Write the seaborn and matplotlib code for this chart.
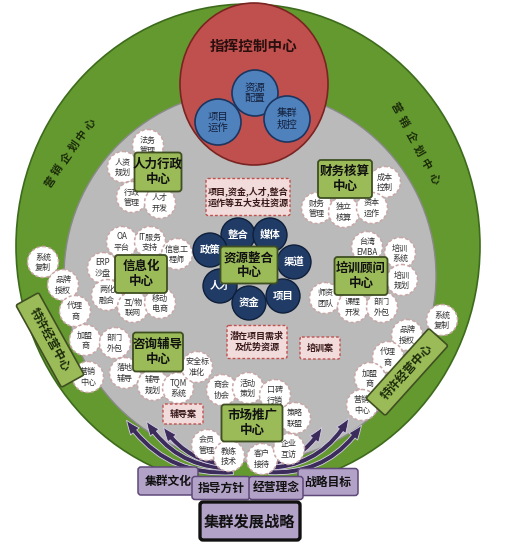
import matplotlib
matplotlib.use("Agg")
import matplotlib.pyplot as plt
import seaborn as sns
from matplotlib.patches import Circle, Ellipse, FancyBboxPatch, FancyArrowPatch
import matplotlib.transforms as mtransforms

sns.set_theme(style="white")
plt.rcParams['font.family'] = ['Noto Sans CJK SC', 'DejaVu Sans']

# --- contenido del diagrama ---
titulo = "指挥控制中心"
nucleo_labels = ["资源\n配置", "项目\n运作", "集群\n规控"]
nucleo_xy = [(255, 93), (218, 122), (287, 119)]

anillo_label = "营销企划中心"
anillo_izq_xy = [(50, 182), (57, 170), (66, 158), (74, 146), (82, 135), (90, 124)]
anillo_der_xy = [(396, 108), (403, 122), (411, 137), (418, 151), (426, 165), (434, 179)]

centros = ["人力行政\n中心", "财务核算\n中心", "信息化\n中心", "资源整合\n中心",
           "培训顾问\n中心", "咨询辅导\n中心", "市场推广\n中心"]
centros_xy = [(158, 172), (345, 179), (141, 274), (249, 265), (361, 276), (158, 352), (252, 423)]
centros_wh = [(47, 39), (54, 38), (52, 38), (57, 37), (53, 38), (50, 39), (61, 37)]

satelites = ["法务\n管理", "人资\n规划", "行政\n管理", "人才\n开发",
             "OA\n平台", "IT服务\n支持", "信息工\n程师", "ERP\n沙盘", "两化\n融合", "互/物\n联网", "移动\n电商",
             "系统\n复制", "品牌\n授权", "代理\n商", "加盟\n商", "营销\n中心",
             "部门\n外包", "落地\n辅导", "辅导\n规划", "TQM\n系统", "安全标\n准化",
             "商会\n协会", "活动\n策划", "口碑\n行销", "策略\n联盟", "会员\n管理", "教练\n技术", "客户\n接待", "企业\n互访",
             "成本\n控制", "财务\n管理", "独立\n核算", "资本\n运作",
             "台湾\nEMBA", "培训\n系统", "培训\n规划", "师资\n团队", "课程\n开发", "部门\n外包",
             "系统\n复制", "品牌\n授权", "代理\n商", "加盟\n商", "营销\n中心"]
satelites_xy = [(148, 145), (123, 167), (132, 197), (160, 203),
                (122, 242), (150, 242), (177, 254), (103, 268), (107, 295), (133, 307), (160, 303),
                (43, 262), (63, 285), (75, 311), (85, 340), (88, 377),
                (115, 343), (125, 373), (153, 385), (178, 388), (197, 367),
                (222, 390), (248, 388), (275, 395), (295, 418), (207, 445), (229, 456), (262, 459), (289, 449),
                (385, 182), (317, 208), (344, 212), (372, 208),
                (367, 247), (400, 253), (402, 280), (325, 298), (353, 307), (382, 307),
                (442, 320), (407, 335), (388, 357), (370, 378), (362, 405)]

recursos = ["整合", "媒体", "政策", "渠道", "人才", "资金", "项目"]
recursos_xy = [(238, 235), (270, 235), (210, 250), (294, 262), (220, 286), (249, 303), (283, 296)]

notas = ["项目,资金,人才,整合\n运作等五大支柱资源", "潜在项目需求\n及优势资源", "培训案", "辅导案"]
notas_xy = [(248, 197), (257, 342), (320, 348), (183, 414)]
notas_wh = [(84, 37), (60, 33), (40, 22), (40, 20)]

franquicia = "特许经营中心"
franquicia_xy = [(50, 340), (407, 372)]
franquicia_ang = [-61, 48]

bases = ["集群文化", "战略目标", "指导方针", "经营理念", "集群发展战略"]
bases_xy = [(168, 481), (328, 482), (221, 488), (276, 488), (250, 521)]
bases_wh = [(60, 28), (60, 27), (58, 23), (54, 23), (100, 38)]

flechas_inicio = [(236, 472), (238, 468), (240, 464), (262, 464), (264, 468), (266, 472)]
flechas_fin = [(125, 418), (145, 419), (162, 425), (323, 425), (350, 416), (363, 423)]

# --- colores ---
VERDE = '#64992f'
GRIS = '#bababa'
ROJO = '#c0504d'
AZUL = '#4f81bd'
MARINO = '#1f3b66'
VERDE_CLARO = '#9bbb59'
MORADO = '#b3a2c7'
FLECHA = '#3b2c5c'

fig = plt.figure(figsize=(5.23, 5.45), dpi=100)
ax = fig.add_axes([0, 0, 1, 1])
ax.set_xlim(0, 523)
ax.set_ylim(545, 0)
ax.axis('off')


def caja(x, y, w, h, fc, ec, lw=1.2, ls='-', z=5, pad=3):
    p = FancyBboxPatch((x - w / 2 + pad, y - h / 2 + pad), w - 2 * pad, h - 2 * pad,
                       boxstyle=f"round,pad={pad}", fc=fc, ec=ec, lw=lw, ls=ls, zorder=z)
    ax.add_patch(p)
    return p


# anillo verde y círculo gris
ax.add_patch(Ellipse((248, 246), 464, 484, fc=VERDE, ec='#3d6b1c', lw=1.2, zorder=1))
ax.add_patch(Circle((250, 276), 186, fc=GRIS, ec='#8a8a8a', lw=1, zorder=2))

# círculo de mando
ax.add_patch(Ellipse((254, 84), 148, 162, fc=ROJO, ec='#7a2422', lw=1.2, zorder=3))
ax.text(254, 46, titulo, ha='center', va='center', fontsize=10.5, fontweight='bold', color='#2a0f0f', zorder=4)
for lab, (x, y) in zip(nucleo_labels, nucleo_xy):
    ax.add_patch(Circle((x, y), 23, fc=AZUL, ec='#1b3560', lw=1.2, zorder=4))
    ax.text(x, y, lab, ha='center', va='center', fontsize=7.5, color='#14213d', linespacing=1.1, zorder=5)

# texto curvo del anillo
for ch, (x, y) in zip(anillo_label, anillo_izq_xy):
    ax.text(x, y, ch, ha='center', va='center', fontsize=8, fontweight='bold', rotation=55, color='#1a2a0a', zorder=4)
for ch, (x, y) in zip(anillo_label, anillo_der_xy):
    ax.text(x, y, ch, ha='center', va='center', fontsize=8, fontweight='bold', rotation=-60, color='#1a2a0a', zorder=4)

# flechas
for s, e in zip(flechas_inicio, flechas_fin):
    rad = -0.3 if e[0] < s[0] else 0.3
    ax.add_patch(FancyArrowPatch(s, e, connectionstyle=f"arc3,rad={rad}",
                                 arrowstyle="simple,head_width=8,head_length=10,tail_width=3.5",
                                 fc=FLECHA, ec='#d8d0e6', lw=0.6, zorder=6))

# círculos punteados
for lab, (x, y) in zip(satelites, satelites_xy):
    ax.add_patch(Circle((x, y), 15.5, fc='white', ec='#c9a5a5', lw=1.1, ls=(0, (2, 1.5)), zorder=7))
    ax.text(x, y, lab, ha='center', va='center', fontsize=5.8, color='#333333', linespacing=1.15, zorder=8)

# recursos (azul marino)
for lab, (x, y) in zip(recursos, recursos_xy):
    ax.add_patch(Circle((x, y), 17, fc=MARINO, ec='#0f1f3a', lw=1, zorder=7))
    ax.text(x, y, lab, ha='center', va='center', fontsize=7.5, fontweight='bold', color='white', zorder=8)

# notas rosadas
for lab, (x, y), (w, h) in zip(notas, notas_xy, notas_wh):
    caja(x, y, w, h, '#f2dcdb', '#c0504d', lw=1, ls=(0, (2, 1.5)), z=7, pad=2)
    ax.text(x, y, lab, ha='center', va='center', fontsize=6.5, fontweight='bold', color='#3a1a1a', linespacing=1.3, zorder=8)

# centros
for lab, (x, y), (w, h) in zip(centros, centros_xy, centros_wh):
    caja(x, y, w, h, VERDE_CLARO, '#3f4f22', lw=1.3, z=9)
    ax.text(x, y, lab, ha='center', va='center', fontsize=9, fontweight='bold', color='#111111', linespacing=1.15, zorder=10)

# franquicias rotadas
for (x, y), ang in zip(franquicia_xy, franquicia_ang):
    p = FancyBboxPatch((x - 45, y - 11), 90, 22, boxstyle="round,pad=2", fc=VERDE_CLARO, ec='#3f4f22', lw=1.2, zorder=9)
    p.set_transform(mtransforms.Affine2D().rotate_deg_around(x, y, -ang) + ax.transData)
    ax.add_patch(p)
    ax.text(x, y, franquicia, ha='center', va='center', fontsize=8.5, fontweight='bold', rotation=ang, color='#1a2a0a', zorder=10)

# bases moradas
for i, (lab, (x, y), (w, h)) in enumerate(zip(bases, bases_xy, bases_wh)):
    final = i == len(bases) - 1
    caja(x, y, w, h, MORADO, '#111111' if final else '#5f497a', lw=2.4 if final else 1.1, z=11 + (1 if i >= 2 else 0))
    ax.text(x, y, lab, ha='center', va='center', fontsize=11 if final else 8.5, fontweight='bold', color='#111111', zorder=13)

fig.savefig("out.png", dpi=100, facecolor='white')
